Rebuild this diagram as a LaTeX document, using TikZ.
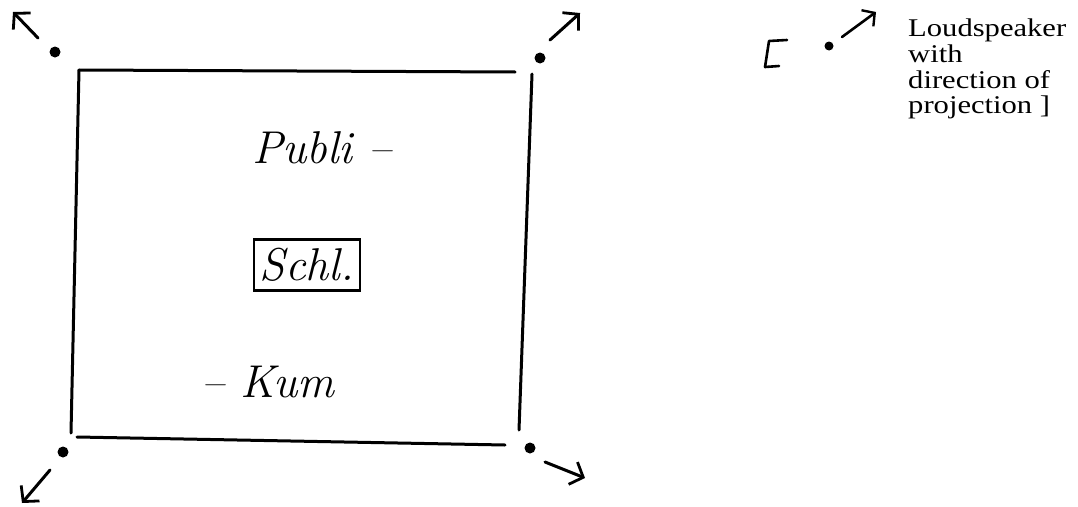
\documentclass[tikz,border=0pt]{standalone}
\usepackage{fontspec}
\usetikzlibrary{arrows.meta}
\newfontfamily\legendfont[FakeStretch=1.2]{Liberation Serif}
\tikzset{
  pen/.style={line width=3pt, line cap=round, line join=round},
  spk/.style={circle, fill=black, inner sep=0pt, minimum size=11pt},
  ray/.style={pen, -{Straight Barb[length=11pt, width=24pt, line width=2.8pt]}},
  hand/.style={font=\fontsize{46}{50}\selectfont\itshape, inner sep=0pt},
  legend/.style={font=\legendfont\fontsize{25.5}{25.6}\selectfont, align=left, anchor=north west, inner sep=0pt}
}
\begin{document}
\begin{tikzpicture}[x=1pt, y=-1pt]
\useasboundingbox (0,0) rectangle (1078,506);
% room corners
\coordinate (tl) at (79,70);
\coordinate (tr) at (515,72);
\coordinate (trv) at (532,74);
\coordinate (brv) at (519,430);
\coordinate (br) at (505,445);
\coordinate (bl) at (77,437);
\coordinate (blv) at (71,433);
\draw[pen] (tl) -- (tr);
\draw[pen] (tl) -- (blv);
\draw[pen] (bl) -- (br);
\draw[pen] (trv) -- (brv);
% loudspeakers
\node[spk] (s1) at (55,52) {};
\node[spk] (s2) at (540,58) {};
\node[spk] (s3) at (63,452) {};
\node[spk] (s4) at (530,448) {};
\coordinate (a1s) at (38,38);  \coordinate (a1e) at (13,12);
\coordinate (a2s) at (550,40); \coordinate (a2e) at (580,13);
\coordinate (a3s) at (50,470); \coordinate (a3e) at (22,503);
\coordinate (a4s) at (545,462);\coordinate (a4e) at (585,478);
\draw[ray] (a1s) -- (a1e);
\draw[ray] (a2s) -- (a2e);
\draw[ray] (a3s) -- (a3e);
\draw[ray] (a4s) -- (a4e);
% texts
\node[hand] (publi) at (322,148) {Publi –};
\node[hand, draw, line width=2.4pt, inner xsep=6pt, inner ysep=9pt] (schl) at (307,265) {Schl.};
\node[hand] (kum) at (268,382) {– Kum};
% legend
\draw[pen, line width=2.6pt] (787,40) -- (769,41) -- (765,67) -- (779,66);
\node[spk, minimum size=9pt] (ls) at (829,46) {};
\coordinate (lrs) at (842,37);
\coordinate (lre) at (876,12);
\draw[pen, line width=2.6pt, -{Straight Barb[length=9pt, width=20pt, line width=2.4pt]}] (lrs) -- (lre);
\node[legend] (txt) at (908,19) {Loudspeaker\\with\\direction of\\projection ]};
\end{tikzpicture}
\end{document}
